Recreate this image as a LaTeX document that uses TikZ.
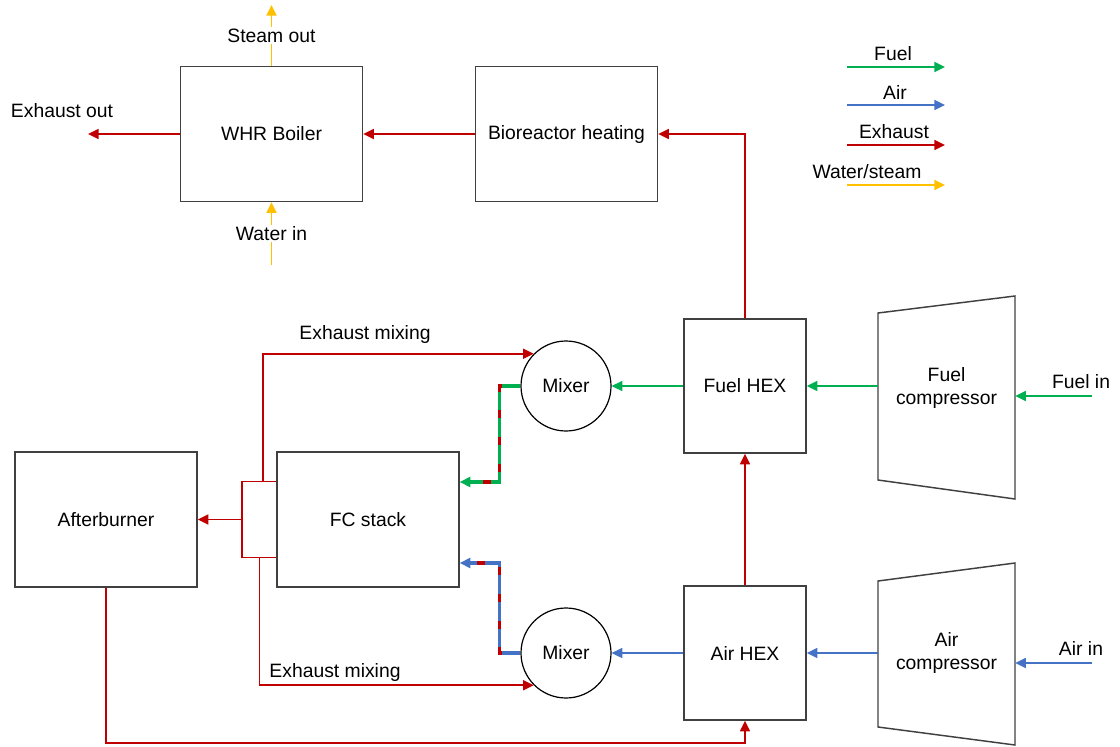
\documentclass[tikz,border=0pt]{standalone}
\usepackage{fontspec}
\setmainfont{Liberation Sans}
\usetikzlibrary{arrows.meta,calc}

\definecolor{fuelgreen}{HTML}{00B050}
\definecolor{airblue}{HTML}{4472C4}
\definecolor{exhred}{HTML}{C00000}
\definecolor{wateryellow}{HTML}{FFC000}
\definecolor{boxgray}{HTML}{404040}

\begin{document}
\begin{tikzpicture}[x=0.75pt,y=-0.75pt,
  font=\fontsize{14.5}{17}\selectfont,
  unit/.style={draw=boxgray, line width=1.1pt, minimum width=136.5pt, minimum height=101.25pt, align=center},
  hex/.style={unit, minimum width=91.5pt, minimum height=100.5pt},
  mixer/.style={draw=black, line width=0.9pt, circle, minimum size=67.5pt, inner sep=0pt},
  comp/.style={draw=boxgray, line width=1.1pt, line join=miter},
  flow/.style={line width=1.25pt, -{Triangle[length=8pt,width=7.5pt]}},
  fuel/.style={flow, fuelgreen},
  air/.style={flow, airblue},
  exhaust/.style={flow, exhred},
  water/.style={flow, wateryellow},
  mixline/.style={line width=2.6pt, dash pattern=on 14pt off 6pt},
  lbl/.style={fill=white, inner sep=1pt, text=black}
]

\useasboundingbox (0,0) rectangle (1120,746);

% Exhaust manifold at the FC stack
\node[draw=exhred, line width=1.25pt, minimum width=26.25pt, minimum height=57pt] (manifold) at (259.5,519.5) {};

% Units
\node[unit] (whr) at (271.5,134) {WHR Boiler};
\node[unit] (bio) at (566.5,134) {Bioreactor heating};
\node[unit] (fc) at (368,519.5) {FC stack};
\node[unit] (ab) at (106,519.5) {Afterburner};
\node[hex] (fuelhex) at (745,386) {Fuel HEX};
\node[hex] (airhex) at (745,653) {Air HEX};
\node[mixer] (mixfuel) at (566,386) {Mixer};
\node[mixer] (mixair) at (566,653) {Mixer};

% Compressors
\node[align=center, minimum width=102.75pt, minimum height=120pt] (fuelcomp) at (946.5,388) {Fuel\\compressor};
\draw[comp] (878,313) -- (1015,296) -- (1015,499) -- (878,480) -- cycle;
\node[align=center, minimum width=102.75pt, minimum height=120pt] (aircomp) at (946.5,653) {Air\\compressor};
\draw[comp] (878,581) -- (1015,563) -- (1015,745) -- (878,727) -- cycle;

% Free ends
\coordinate (exout) at (88,134);
\coordinate (steamout) at (271.5,5);
\coordinate (waterin) at (271.5,265);
\coordinate (fuelin) at (1092,396);
\coordinate (airin) at (1092,663);

% WHR boiler and bioreactor
\draw[exhaust] (bio.west) -- (whr.east);
\draw[exhaust] (whr.west) -- (exout);
\node (exoutlbl) at (62,111) {Exhaust out};
\draw[water] (whr.north) -- (steamout) node[midway, lbl] {Steam out};
\draw[water] (waterin) -- (whr.south) node[midway, lbl] {Water in};
\draw[exhaust] (fuelhex.north) |- (bio.east);

% Fuel line
\draw[fuel] (fuelin) -- (fuelin -| fuelcomp.east);
\node (fuelinlbl) at (1081,382) {Fuel in};
\draw[fuel] (fuelcomp.west |- fuelhex.east) -- (fuelhex.east);
\draw[fuel] (fuelhex.west) -- (mixfuel.east);

% Air line
\draw[air] (airin) -- (airin -| aircomp.east);
\node (airinlbl) at (1081,648) {Air in};
\draw[air] (aircomp.west |- airhex.east) -- (airhex.east);
\draw[air] (airhex.west) -- (mixair.east);
\draw[exhaust] (airhex.north) -- (fuelhex.south);

% Mixed streams into the FC stack
\draw[exhred, line width=2.6pt, shorten >=8pt] (mixfuel.west) -- ++(-21,0) |- ($(fc.east)+(0,-37.5)$);
\draw[mixline, fuelgreen, -{Triangle[length=8pt,width=7.5pt]}] (mixfuel.west) -- ++(-21,0) |- ($(fc.east)+(0,-37.5)$);
\draw[exhred, line width=2.6pt, shorten >=8pt] (mixair.west) -- ++(-21,0) |- ($(fc.east)+(0,43.5)$);
\draw[mixline, airblue, -{Triangle[length=8pt,width=7.5pt]}] (mixair.west) -- ++(-21,0) |- ($(fc.east)+(0,43.5)$);

% Exhaust recirculation and afterburner
\draw[exhaust] ($(manifold.north west)!0.6!(manifold.north east)$) |- (mixfuel.north west);
\node (mixtoplbl) at (365,334) {Exhaust mixing};
\draw[exhaust] ($(manifold.south west)!0.5!(manifold.south east)$) |- (mixair.south west);
\node (mixbotlbl) at (335,672) {Exhaust mixing};
\draw[exhaust] (manifold.west) -- (ab.east);
\draw[exhaust] (ab.south) -- ++(0,155) -| (airhex.south);

% Legend
\foreach \ly/\lx/\lname/\lstyle [count=\n] in {67/893/Fuel/fuel, 105/895/Air/air, 145/894/Exhaust/exhaust, 185/867/{Water/steam}/water}
{
    \coordinate (legs\n) at (847,\ly);
    \coordinate (lege\n) at (945,\ly);
    \draw[\lstyle] (legs\n) -- (lege\n);
    \node (leglbl\n) at (\lx,\ly-13) {\lname};
}

\end{tikzpicture}
\end{document}
